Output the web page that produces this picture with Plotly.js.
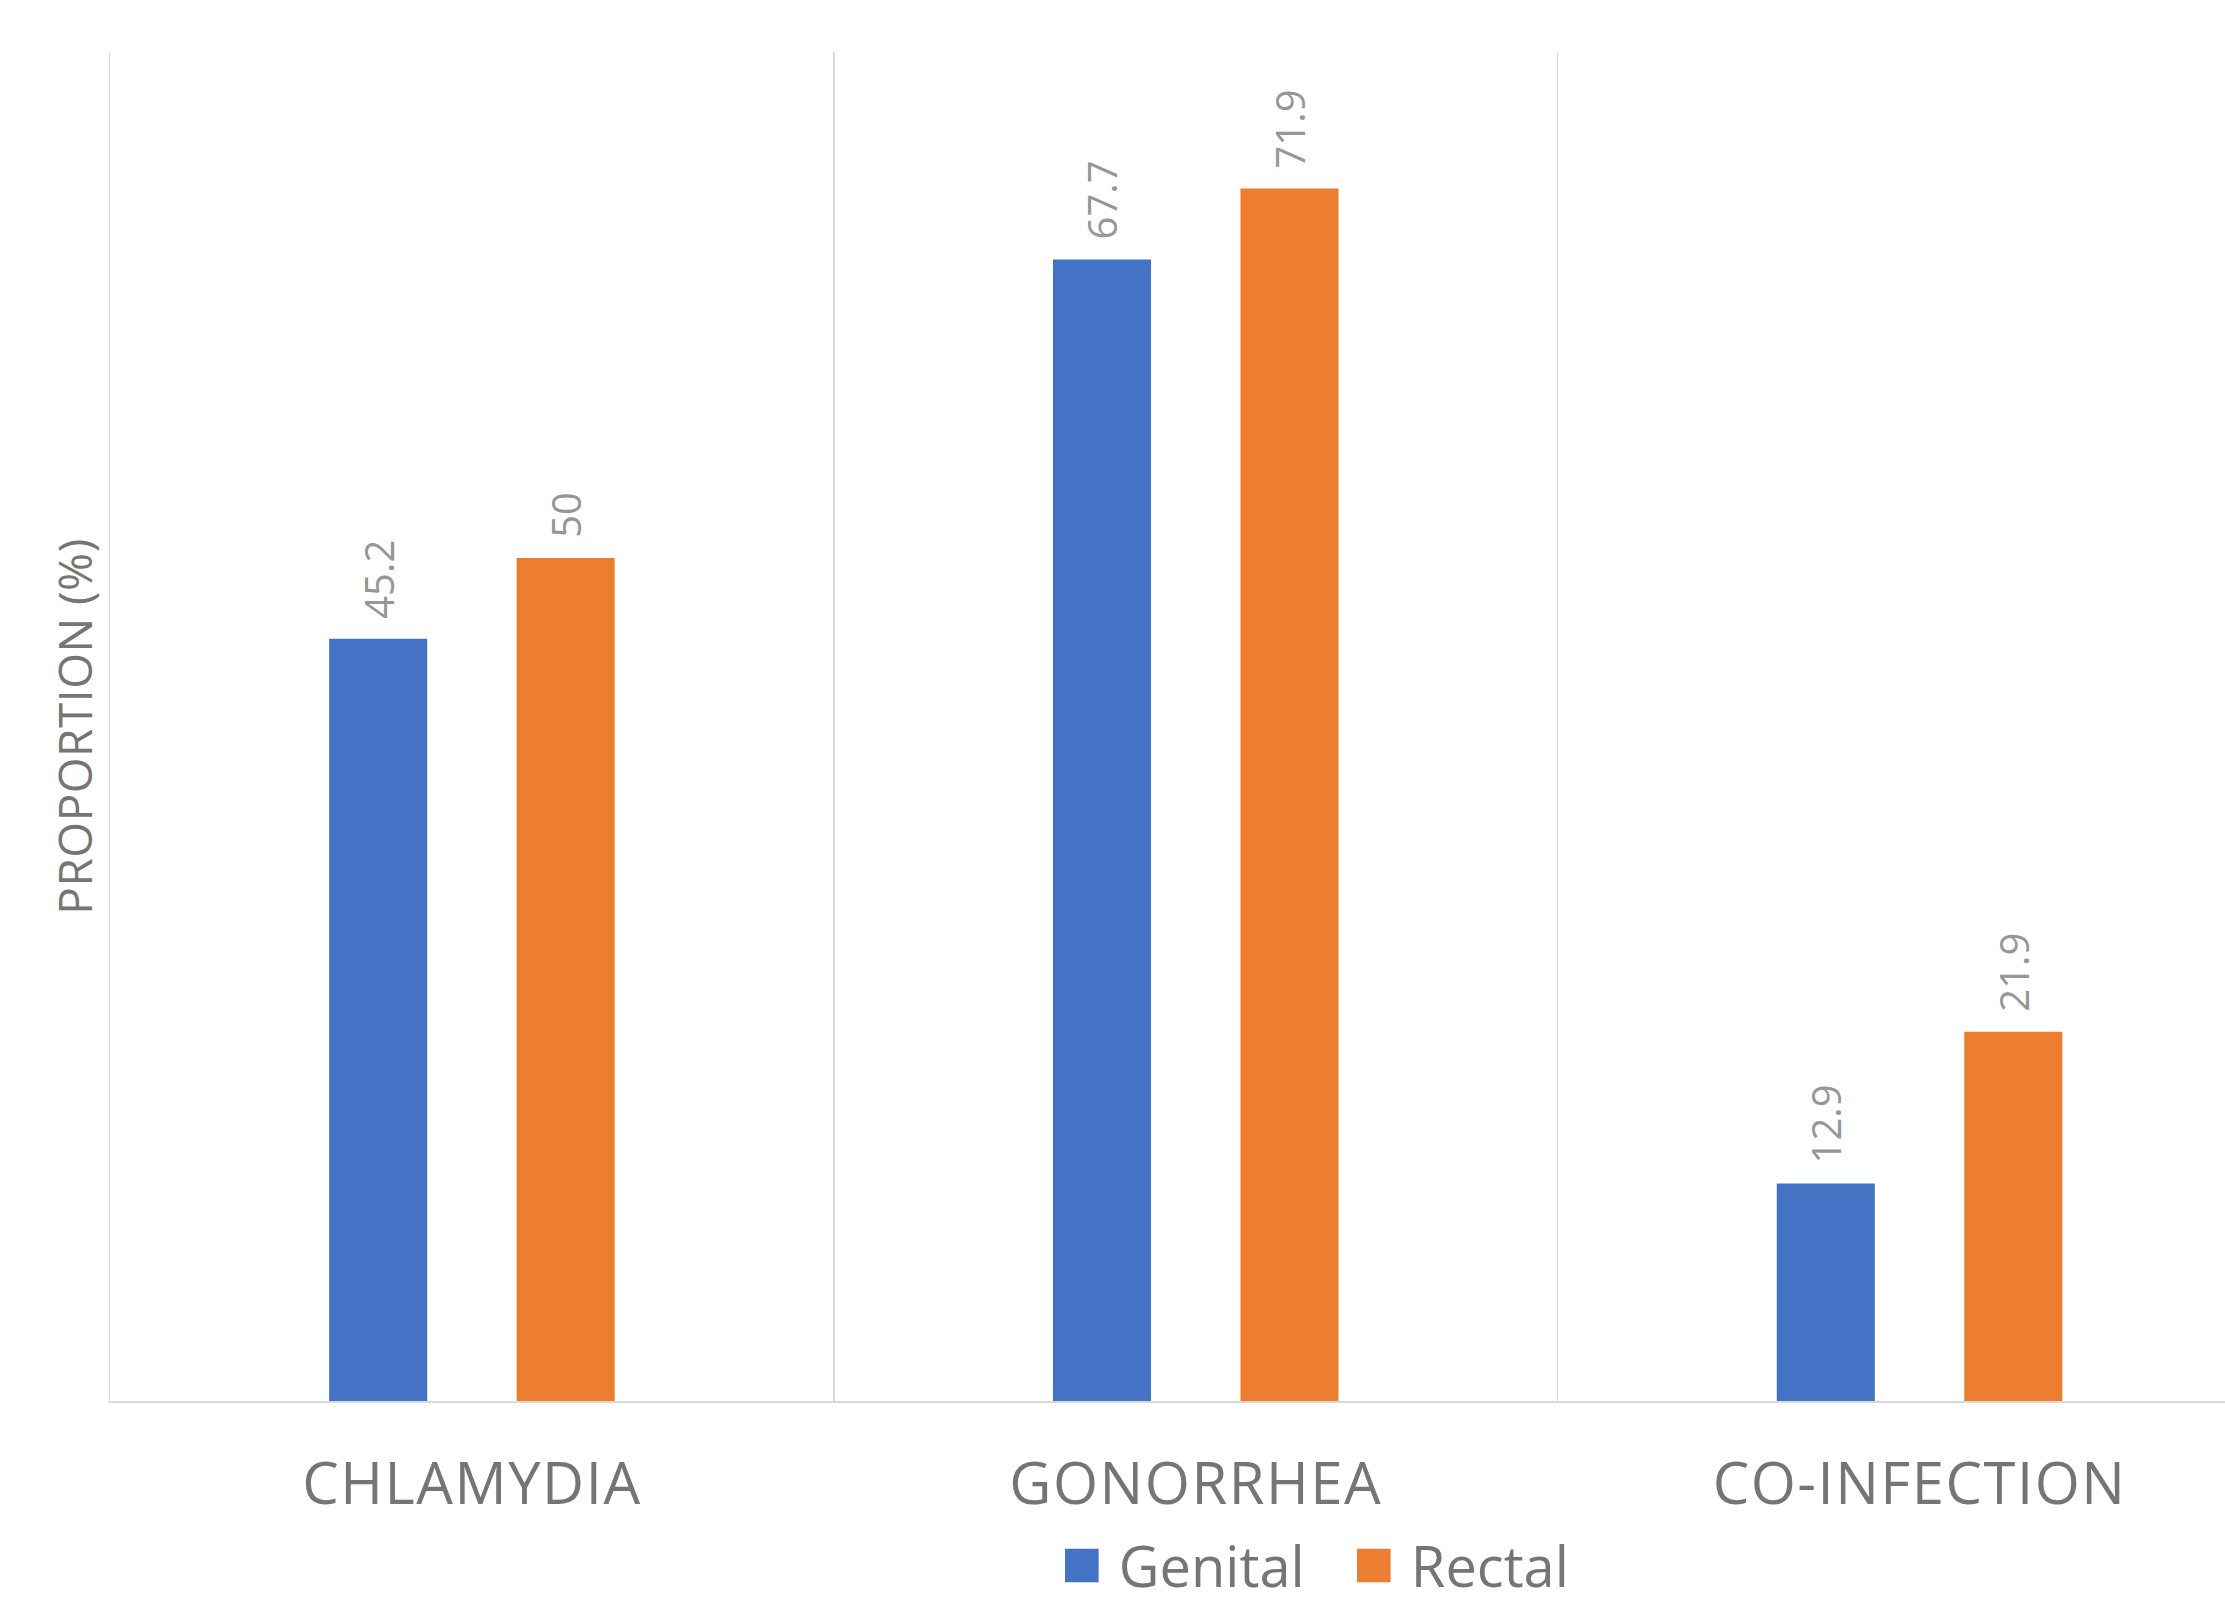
<!DOCTYPE html>
<html>
<head>
<meta charset="utf-8">
<script src="https://cdn.plot.ly/plotly-3.0.1.min.js"></script>
<style>
html,body{margin:0;padding:0;background:#fff;}
#chart{width:2225px;height:1609px;}
.xtick text{letter-spacing:1.5px;}
.ytitle{letter-spacing:0.5px;}
</style>
</head>
<body>
<div id="chart"></div>
<script>
const categories = ["CHLAMYDIA", "GONORRHEA", "CO-INFECTION"];
const genital = [45.2, 67.7, 12.9];
const rectal = [50, 71.9, 21.9];
const seriesNames = ["Genital", "Rectal"];
const yTitle = "PROPORTION (%)";

const FONT = "Open Sans, Noto Sans, sans-serif";
const labelFont = {family: FONT, size: 40, color: "#969696"};
const PAD = "\u00a0\u2009";

const traces = [
  {type: "bar", name: seriesNames[0], x: categories, y: genital,
   marker: {color: "#4472C4"}, text: genital.map(v => PAD + v),
   textposition: "outside", textangle: -90, constraintext: "none",
   textfont: labelFont, cliponaxis: false, hoverinfo: "none"},
  {type: "bar", name: seriesNames[1], x: categories, y: rectal,
   marker: {color: "#ED7D31"}, text: rectal.map(v => PAD + v),
   textposition: "outside", textangle: -90, constraintext: "none",
   textfont: labelFont, cliponaxis: false, hoverinfo: "none"}
];

const layout = {
  width: 2225, height: 1609,
  paper_bgcolor: "#fff", plot_bgcolor: "#fff",
  margin: {l: 110, r: 0, t: 52, b: 208, autoexpand: false},
  barmode: "group", bargap: 0.482, bargroupgap: 0.477,
  font: {family: FONT, color: "#757575"},
  xaxis: {
    type: "category", range: [-0.5, 2.422],
    tickson: "boundaries", ticks: "", showgrid: true,
    gridcolor: "#d9d9d9", gridwidth: 1.5,
    showline: true, linecolor: "#d9d9d9", linewidth: 2,
    tickfont: {family: FONT, size: 58, color: "#757575"},
    ticklabelstandoff: 31, zeroline: false, fixedrange: true, automargin: false
  },
  yaxis: {
    range: [0, 80], showgrid: false, zeroline: false,
    showticklabels: false, ticks: "",
    showline: true, linecolor: "#d9d9d9", linewidth: 1.5,
    title: {text: yTitle, font: {family: FONT, size: 46, color: "#757575"}, standoff: 1},
    fixedrange: true, automargin: false
  },
  showlegend: true,
  legend: {
    orientation: "h", x: 0.442, xanchor: "left", y: -0.122, yanchor: "middle",
    font: {family: FONT, size: 56, color: "#757575"},
    itemwidth: 64, entrywidth: 213, entrywidthmode: "pixels",
    bgcolor: "rgba(0,0,0,0)"
  }
};

Plotly.newPlot("chart", traces, layout, {displayModeBar: false, staticPlot: true}).then(function(){
  document.querySelectorAll(".legend .legendpoints path").forEach(function(p){
    var t = p.getAttribute("transform") || "";
    p.setAttribute("transform", t + " scale(2.8)");
  });
});
</script>
</body>
</html>
